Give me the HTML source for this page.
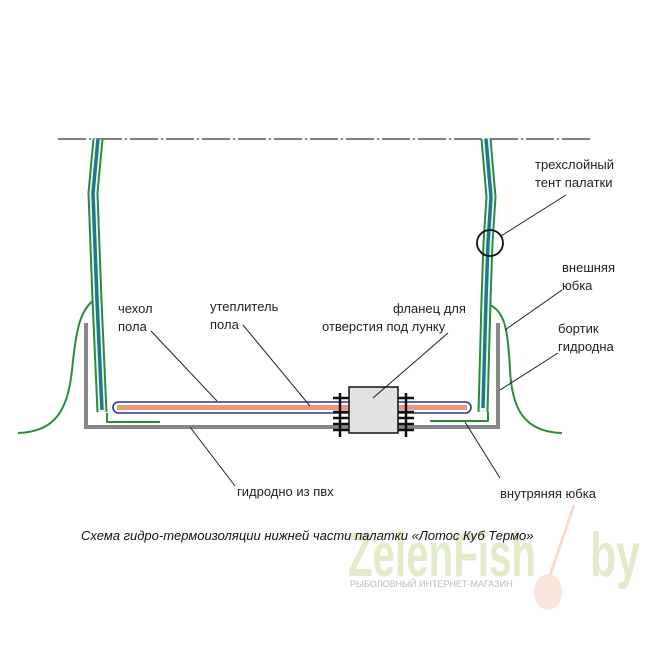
<!DOCTYPE html>
<html><head><meta charset="utf-8"><style>
html,body{margin:0;padding:0;background:#fff}
svg{display:block}
text{font-family:"Liberation Sans",sans-serif;fill:#222;font-size:13px}
</style></head><body>
<svg width="650" height="650" viewBox="0 0 650 650" xmlns="http://www.w3.org/2000/svg">
<line x1="58" y1="139" x2="592" y2="139" stroke="#555" stroke-width="1.5" stroke-dasharray="28,3,2,3"/>
<!-- watermark -->
<line x1="574" y1="505" x2="545" y2="590" stroke="#f8dccf" stroke-width="3"/>
<ellipse cx="548" cy="592" rx="14" ry="18" fill="#fbe6de"/>
<text x="348" y="576" textLength="188" lengthAdjust="spacingAndGlyphs" style="font-size:62px;font-weight:bold;fill:#e3ecca">ZelenFish</text>
<text x="590" y="576" textLength="50" lengthAdjust="spacingAndGlyphs" style="font-size:62px;font-weight:bold;fill:#e3ecca">by</text>
<text x="350" y="587" style="font-size:9px;fill:#bbb">РЫБОЛОВНЫЙ ИНТЕРНЕТ-МАГАЗИН</text>

<polyline points="86,323 86,427 498,427 498,323" fill="none" stroke="#888" stroke-width="4"/>
<path d="M94,300 C80,310 76,330 72,370 C68,410 55,432 18,433" fill="none" stroke="#2e8b3e" stroke-width="2"/>
<path d="M490,305 C505,312 508,330 510,370 C512,410 525,432 562,433" fill="none" stroke="#2e8b3e" stroke-width="2"/>
<g fill="none" stroke-linejoin="round">
<polyline points="98,139 93,193 97,300 102,412" stroke="#2e8b3e" stroke-width="11"/>
<polyline points="98,139 93,193 97,300 102,412" stroke="#e8f6f4" stroke-width="7"/>
<polyline points="98,139 93,193 97,300 102,410" stroke="#1f7a86" stroke-width="3.5"/>
<polyline points="107,413 107,422 160,422" stroke="#2e8b3e" stroke-width="2"/>
<polyline points="486,139 491,197 488,243 486,300 483,412" stroke="#2e8b3e" stroke-width="11"/>
<polyline points="486,139 491,197 488,243 486,300 483,412" stroke="#e8f6f4" stroke-width="7"/>
<polyline points="486,139 491,197 488,243 486,300 483,408" stroke="#1f7a86" stroke-width="3.5"/>
<polyline points="430,421 488,421 488,412" stroke="#2e8b3e" stroke-width="2"/>
</g>
<rect x="113" y="402" width="358" height="11" rx="5.5" fill="#fff" stroke="#2a3a8a" stroke-width="1.6"/>
<rect x="117" y="405" width="350" height="5" fill="#e89a80"/>
<g stroke="#111" stroke-width="2.5">
<line x1="340" y1="393" x2="340" y2="437"/><line x1="406" y1="393" x2="406" y2="437"/>
<line x1="333" y1="398" x2="350" y2="398"/><line x1="333" y1="412" x2="350" y2="412"/><line x1="333" y1="418" x2="350" y2="418"/><line x1="333" y1="424" x2="350" y2="424"/><line x1="333" y1="430" x2="350" y2="430"/>
<line x1="397" y1="398" x2="414" y2="398"/><line x1="397" y1="412" x2="414" y2="412"/><line x1="397" y1="418" x2="414" y2="418"/><line x1="397" y1="424" x2="414" y2="424"/><line x1="397" y1="430" x2="414" y2="430"/>
</g>
<rect x="349" y="387" width="49" height="46" fill="#e2e2e2" stroke="#111" stroke-width="1.5"/>
<circle cx="490" cy="243" r="13" fill="none" stroke="#111" stroke-width="1.8"/>
<g stroke="#222" stroke-width="1">
<line x1="501" y1="236" x2="566" y2="195"/>
<line x1="505" y1="330" x2="562" y2="290"/>
<line x1="500" y1="390" x2="558" y2="353"/>
<line x1="465" y1="422" x2="500" y2="478"/>
<line x1="190" y1="427" x2="235" y2="486"/>
<line x1="151" y1="331" x2="217" y2="401"/>
<line x1="243" y1="325" x2="310" y2="406"/>
<line x1="448" y1="333" x2="373" y2="398"/>
</g>
<text x="535" y="169">трехслойный</text>
<text x="535" y="187">тент палатки</text>
<text x="562" y="272">внешняя</text>
<text x="562" y="290">юбка</text>
<text x="558" y="333">бортик</text>
<text x="558" y="351">гидродна</text>
<text x="500" y="498">внутряняя юбка</text>
<text x="237" y="496">гидродно из пвх</text>
<text x="118" y="313">чехол</text>
<text x="118" y="331">пола</text>
<text x="210" y="311">утеплитель</text>
<text x="210" y="329">пола</text>
<text x="393" y="313">фланец для</text>
<text x="322" y="331">отверстия под лунку</text>
<text x="81" y="540" style="font-style:italic;font-size:13px;fill:#111">Схема гидро-термоизоляции нижней части палатки «Лотос Куб Термо»</text>
</svg>
</body></html>
